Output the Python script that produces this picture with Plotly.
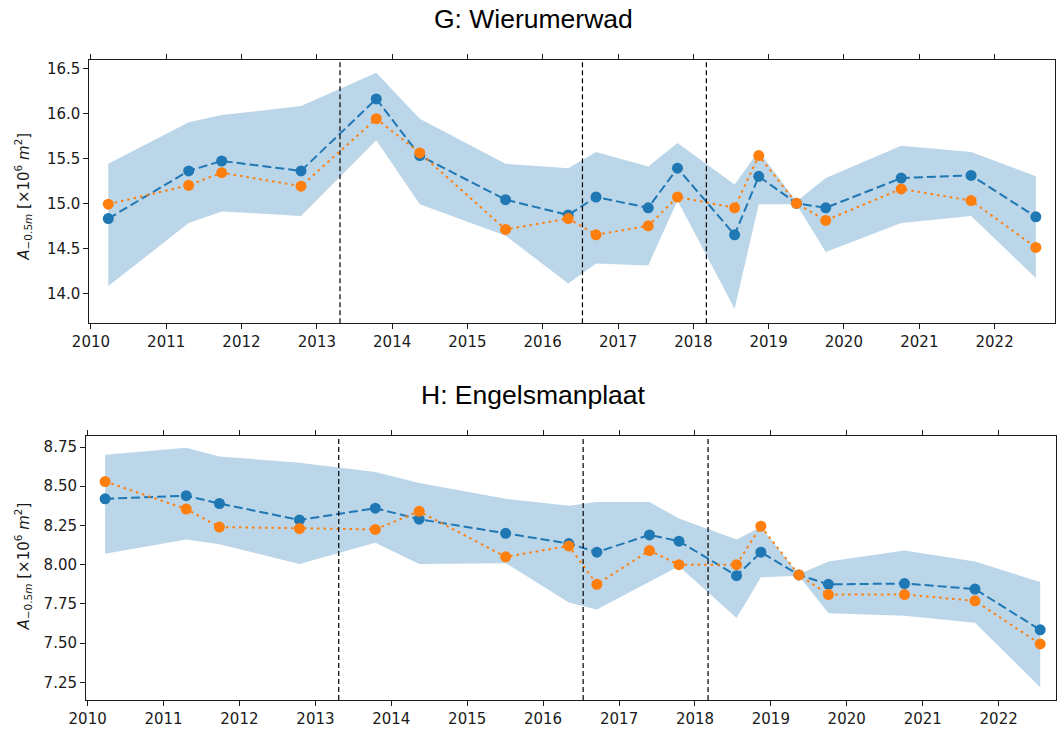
import plotly.graph_objects as go

# Survey dates (shared by both sites)
dates = ["2010-03-26", "2011-04-20", "2011-09-27", "2012-10-16", "2013-10-16",
         "2014-05-15", "2015-07-05", "2016-05-04", "2016-09-16", "2017-05-27",
         "2017-10-16", "2018-07-20", "2018-11-14", "2019-05-16", "2019-10-05",
         "2020-10-05", "2021-09-09", "2022-07-20"]

# Event markers (vertical dashed lines)
events = ["2013-04-23", "2016-07-12", "2018-03-05"]

# G: Wierumerwad  (area below -0.5 m, x10^6 m^2)
g_mean = [14.83, 15.36, 15.47, 15.36, 16.16, 15.53, 15.04, 14.87, 15.07, 14.95,
          15.39, 14.65, 15.30, 15.00, 14.95, 15.28, 15.31, 14.85]
g_alt = [14.99, 15.20, 15.34, 15.19, 15.94, 15.56, 14.71, 14.83, 14.65, 14.75,
         15.07, 14.95, 15.53, 15.00, 14.81, 15.16, 15.03, 14.51]
g_upper = [15.44, 15.90, 15.98, 16.08, 16.45, 15.94, 15.44, 15.39, 15.57, 15.41,
           15.67, 15.21, 15.58, 15.02, 15.28, 15.64, 15.57, 15.30]
g_lower = [14.08, 14.78, 14.91, 14.86, 15.70, 14.99, 14.64, 14.11, 14.33, 14.31,
           15.03, 13.83, 14.99, 14.99, 14.46, 14.78, 14.86, 14.17]

# H: Engelsmanplaat
h_mean = [8.42, 8.44, 8.39, 8.285, 8.36, 8.29, 8.20, 8.135, 8.08, 8.19,
          8.15, 7.93, 8.08, 7.935, 7.875, 7.88, 7.845, 7.585]
h_alt = [8.53, 8.355, 8.24, 8.23, 8.225, 8.34, 8.05, 8.12, 7.875, 8.09,
         8.00, 8.00, 8.245, 7.935, 7.81, 7.81, 7.77, 7.495]
h_upper = [8.70, 8.745, 8.69, 8.65, 8.59, 8.52, 8.42, 8.375, 8.40, 8.40,
           8.295, 8.16, 8.24, 7.94, 8.02, 8.09, 8.02, 7.89]
h_lower = [8.07, 8.16, 8.13, 8.005, 8.14, 8.005, 8.01, 7.76, 7.715, 7.89,
           7.99, 7.66, 7.92, 7.93, 7.69, 7.675, 7.63, 7.22]

g_yticks = [14.0, 14.5, 15.0, 15.5, 16.0, 16.5]
h_yticks = [7.25, 7.50, 7.75, 8.00, 8.25, 8.50, 8.75]

BLUE = "#1f77b4"
ORANGE = "#ff7f0e"
BAND = "rgba(31,119,180,0.3)"
INK = "#1a1a1a"
W, H = 1059, 731

fig = go.Figure()


def add_panel(xa, ya, mean, alt, upper, lower):
    fig.add_trace(go.Scatter(x=dates, y=lower, mode="lines", line=dict(width=0),
                             xaxis=xa, yaxis=ya, showlegend=False, hoverinfo="skip"))
    fig.add_trace(go.Scatter(x=dates, y=upper, mode="lines", line=dict(width=0),
                             fill="tonexty", fillcolor=BAND,
                             xaxis=xa, yaxis=ya, showlegend=False, hoverinfo="skip"))
    fig.add_trace(go.Scatter(x=dates, y=mean, mode="lines+markers",
                             line=dict(color=BLUE, width=2, dash="9px,4px"),
                             marker=dict(color=BLUE, size=11, line=dict(width=0)),
                             xaxis=xa, yaxis=ya, showlegend=False))
    fig.add_trace(go.Scatter(x=dates, y=alt, mode="lines+markers",
                             line=dict(color=ORANGE, width=2, dash="2.5px,4px"),
                             marker=dict(color=ORANGE, size=11, line=dict(width=0)),
                             xaxis=xa, yaxis=ya, showlegend=False))
    for d in events:
        fig.add_shape(type="line", x0=d, x1=d, y0=0, y1=1,
                      xref=xa, yref=f"{ya} domain",
                      line=dict(color="black", width=1.2, dash="5px,3px"),
                      layer="above")


add_panel("x", "y", g_mean, g_alt, g_upper, g_lower)
add_panel("x2", "y2", h_mean, h_alt, h_upper, h_lower)

tickfont = dict(family="DejaVu Sans", size=15, color=INK)
common_x = dict(type="date", tickformat="%Y", dtick="M12", tick0="2010-01-01",
                ticks="outside", ticklen=5, tickwidth=1, tickcolor=INK,
                showline=True, linecolor=INK, linewidth=1, mirror="ticks",
                showgrid=False, zeroline=False, tickfont=tickfont, automargin=False)
common_y = dict(ticks="outside", ticklen=5, tickwidth=1, tickcolor=INK,
                showline=True, linecolor=INK, linewidth=1, mirror=True,
                showgrid=False, zeroline=False, tickfont=tickfont, automargin=False)

fig.update_layout(
    width=W, height=H,
    margin=dict(l=0, r=0, t=0, b=0, autoexpand=False),
    paper_bgcolor="white", plot_bgcolor="white",
    showlegend=False,
    xaxis=dict(common_x, domain=[89.3 / W, 1055 / W],
               range=["2009-12-24", "2022-10-21"], anchor="y"),
    yaxis=dict(common_y, domain=[1 - 323.3 / H, 1 - 60 / H],
               range=[13.667, 16.592], tickvals=g_yticks, tickformat=".1f", anchor="x"),
    xaxis2=dict(common_x, domain=[86 / W, 1056 / W],
                range=["2009-12-24", "2022-10-04"], anchor="y2"),
    yaxis2=dict(common_y, domain=[1 - 700 / H, 1 - 435.7 / H],
                range=[7.138, 8.822], tickvals=h_yticks, tickformat=".2f", anchor="x2"),
)

title_font = dict(family="Liberation Sans, Arial", size=26.5, color="black")
fig.add_annotation(text="G: Wierumerwad", x=533.5 / W, y=1 - 19 / H,
                   xref="paper", yref="paper", showarrow=False,
                   xanchor="center", yanchor="middle", font=title_font)
fig.add_annotation(text="H: Engelsmanplaat", x=533.5 / W, y=1 - 394.5 / H,
                   xref="paper", yref="paper", showarrow=False,
                   xanchor="center", yanchor="middle", font=title_font)

ylabel = "<i>A</i><sub>−0.5<i>m</i></sub> [×10<sup>6</sup> <i>m</i><sup>2</sup>]"
label_font = dict(family="DejaVu Sans", size=15, color=INK)
for yc in (196.7, 566.5):
    fig.add_annotation(text=ylabel, x=23 / W, y=1 - yc / H,
                       xref="paper", yref="paper", showarrow=False, textangle=-90,
                       xanchor="center", yanchor="middle", font=label_font)

fig.write_html("out.html")
